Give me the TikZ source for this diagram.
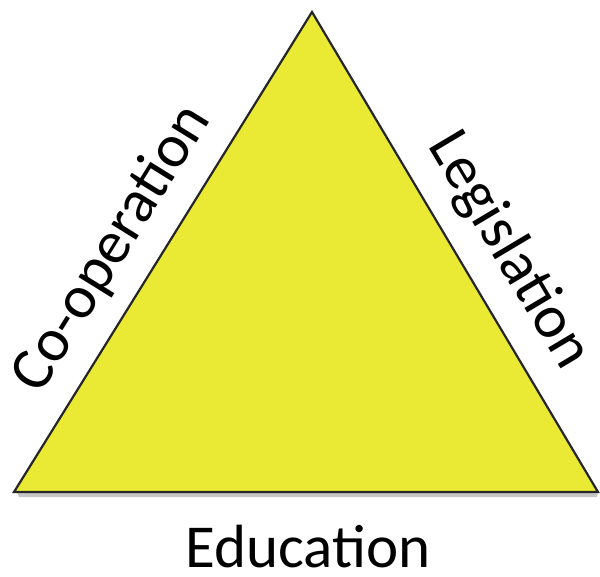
\documentclass[tikz,border=0pt]{standalone}
\usepackage{fontspec}
\setmainfont{Carlito}
\usetikzlibrary{calc}
\definecolor{triyellow}{RGB}{234,234,52}
\begin{document}
\begin{tikzpicture}[x=1pt,y=-1pt,
  lbl/.style={font=\fontsize{61}{64}\selectfont, text=black, inner sep=0pt}]
\useasboundingbox (0,0) rectangle (600,576);
\coordinate (top) at (312,12);
\coordinate (bl) at (14,492);
\coordinate (br) at (598,492);
\fill[black!45, opacity=0.5] ($(bl)+(3,0)$) -- ($(bl)+(5,5)$) -- ($(br)+(-1,5)$) -- (br) -- cycle;
\draw[fill=triyellow, draw=black!85, line width=2.2pt, line join=miter] (top) -- (br) -- (bl) -- cycle;
\node[lbl, rotate=58.2, anchor=base] (coop) at (126,257) {Co-operation};
\node[lbl, rotate=-59.2, anchor=base] (legis) at (495,259) {Legislation};
\node[lbl, anchor=base] (edu) at (308,567) {Education};
\end{tikzpicture}
\end{document}
